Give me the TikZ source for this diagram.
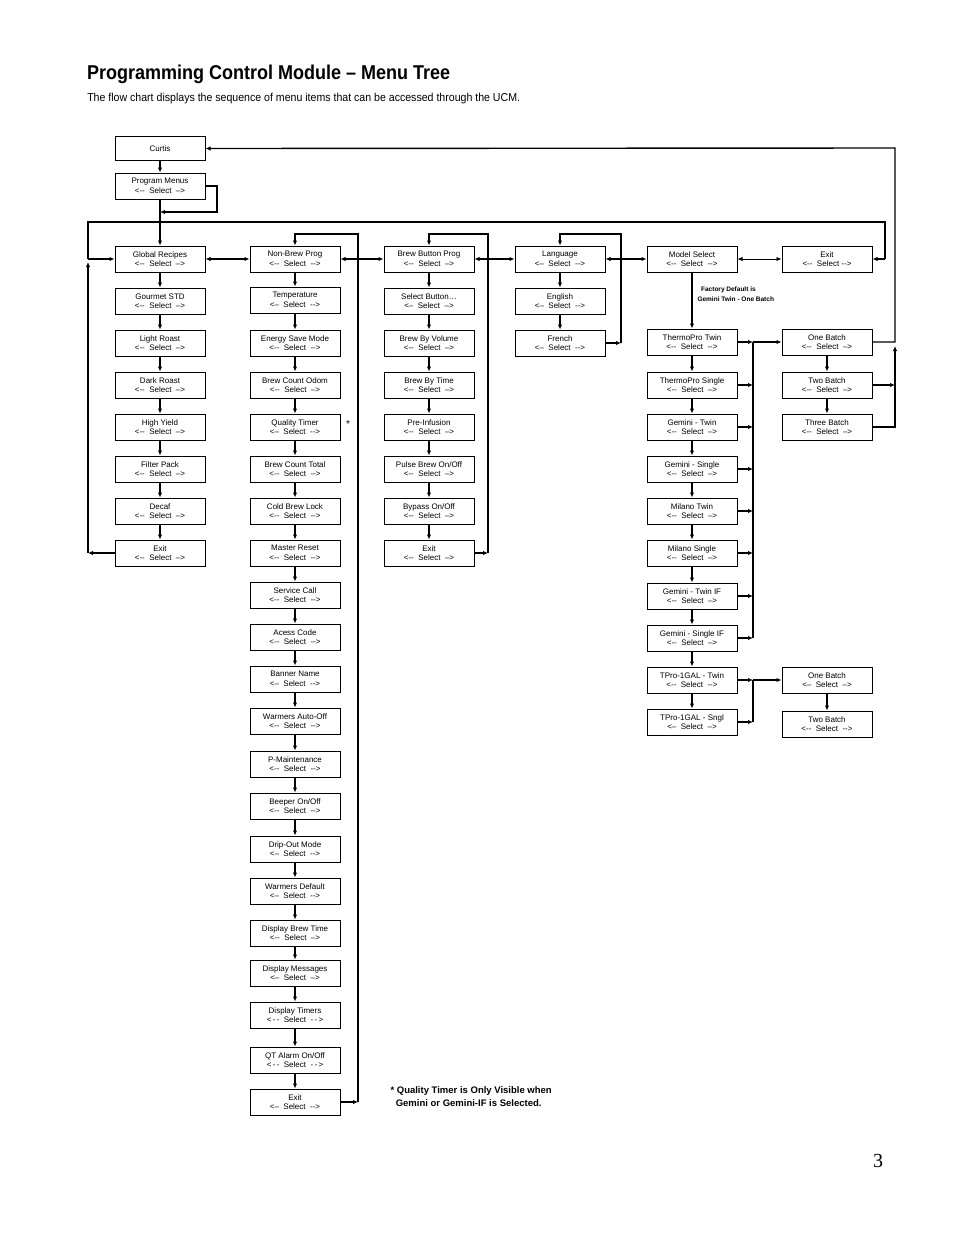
\documentclass[tikz,border=0pt]{standalone}
\usepackage{fontspec}
\setmainfont{Liberation Sans}
\newfontfamily\serifnum{Liberation Serif}
\usetikzlibrary{arrows.meta}
\newcommand\SA{<{-}{-}\ \ Select\ \ {-}{-}>}
\newcommand\SB{<{-}{-}\ \ Select\ \ –>}
\newcommand\SC{<–\ \ Select\ \ {-}{-}>}
\newcommand\SD{<\,-\,-\ \ Select\ \ -\,-\,>}
\begin{document}
\begin{tikzpicture}[x=1pt,y=-1pt,
  box/.style={draw,line width=1pt,minimum width=90pt,minimum height=26pt,inner sep=0pt,
    font=\fontsize{8}{9.5}\selectfont,align=center},
  ln/.style={line width=1.4pt},
  ar/.style={line width=1.4pt,-{Latex[length=5pt,width=4.5pt]}},
  dar/.style={line width=1.4pt,{Latex[length=5pt,width=4.5pt]}-{Latex[length=5pt,width=4.5pt]}}]
\useasboundingbox (0,0) rectangle (954,1235);
\node[anchor=base west,font=\fontsize{20}{22}\bfseries\selectfont,xscale=0.9] (title) at (84,79) {Programming Control Module – Menu Tree};
\node[anchor=base west,font=\fontsize{11.5}{13}\selectfont,xscale=0.92] (sub) at (84,101) {The flow chart displays the sequence of menu items that can be accessed through the UCM.};
\node[anchor=base,font=\fontsize{20}{22}\serifnum] (pg) at (878,1167) {3};

\node[box,minimum height=24pt,anchor=north,inner sep=2pt] (curtis) at (160,136) {Curtis};
\node[box] (pm) at (160,186) {Program Menus\\\SB};
% column 1
\node[box] (a1) at (160,259) {Global Recipes\\\SB};
\node[box] (a2) at (160,301) {Gourmet STD\\\SB};
\node[box] (a3) at (160,343) {Light Roast\\\SB};
\node[box] (a4) at (160,385) {Dark Roast\\\SB};
\node[box] (a5) at (160,427) {High Yield\\\SB};
\node[box] (a6) at (160,469) {Filter Pack\\\SB};
\node[box] (a7) at (160,511) {Decaf\\\SB};
\node[box] (a8) at (160,553) {Exit\\\SB};
% column 2
\node[box] (b1) at (295,259) {Non-Brew Prog\\\SA};
\node[box] (b2) at (295,300) {Temperature\\\SC};
\node[box] (b3) at (295,343) {Energy Save Mode\\\SA};
\node[box] (b4) at (295,385) {Brew Count Odom\\\SB};
\node[box] (b5) at (295,427) {Quality Timer\\\SC};
\node[box] (b6) at (295,469) {Brew Count Total\\\SA};
\node[box] (b7) at (295,511) {Cold Brew Lock\\\SA};
\node[box] (b8) at (295,553) {Master Reset\\\SA};
\node[box] (b9) at (295,595) {Service Call\\\SA};
\node[box] (b10) at (295,637) {Acess Code\\\SA};
\node[box] (b11) at (295,679) {Banner Name\\\SC};
\node[box] (b12) at (295,721) {Warmers Auto-Off\\\SA};
\node[box] (b13) at (295,764) {P-Maintenance\\\SA};
\node[box] (b14) at (295,806) {Beeper On/Off\\\SA};
\node[box] (b15) at (295,849) {Drip-Out Mode\\\SC};
\node[box] (b16) at (295,891) {Warmers Default\\\SC};
\node[box] (b17) at (295,933) {Display Brew Time\\\SB};
\node[box] (b18) at (295,973) {Display Messages\\<–\ \ Select\ \ –>};
\node[box] (b19) at (295,1015) {Display Timers\\\SD};
\node[box] (b20) at (295,1060) {QT Alarm On/Off\\\SD};
\node[box] (b21) at (295,1102) {Exit\\\SC};
\node[font=\fontsize{10}{10}\selectfont] (star) at (348,424) {*};
% column 3
\node[box] (c1) at (429,259) {Brew Button Prog\\\SB};
\node[box] (c2) at (429,301) {Select Button…\\<–\ \ Select\ \ –>};
\node[box] (c3) at (429,343) {Brew By Volume\\\SB};
\node[box] (c4) at (429,385) {Brew By Time\\\SB};
\node[box] (c5) at (429,427) {Pre-Infusion\\\SB};
\node[box] (c6) at (429,469) {Pulse Brew On/Off\\\SB};
\node[box] (c7) at (429,511) {Bypass On/Off\\\SB};
\node[box] (c8) at (429,553) {Exit\\\SB};
% column 4
\node[box] (d1) at (560,259) {Language\\\SC};
\node[box] (d2) at (560,301) {English\\\SC};
\node[box] (d3) at (560,343) {French\\\SC};
% column 5
\node[box] (e0) at (692,259) {Model Select\\\SA};
\node[box] (e1) at (692,342) {ThermoPro Twin\\\SA};
\node[box] (e2) at (692,385) {ThermoPro Single\\\SB};
\node[box] (e3) at (692,427) {Gemini - Twin\\\SB};
\node[box] (e4) at (692,469) {Gemini - Single\\\SB};
\node[box] (e5) at (692,511) {Milano Twin\\\SB};
\node[box] (e6) at (692,553) {Milano Single\\\SB};
\node[box] (e7) at (692,596) {Gemini - Twin IF\\\SB};
\node[box] (e8) at (692,638) {Gemini - Single IF\\\SB};
\node[box] (e9) at (692,680) {TPro-1GAL - Twin\\\SA};
\node[box] (e10) at (692,722) {TPro-1GAL - Sngl\\<–\ \ Select\ \ –>};
% column 6
\node[box] (f0) at (827,259) {Exit\\<{-}{-}\ \ Select {-}{-}>};
\node[box] (f1) at (827,342) {One Batch\\\SB};
\node[box] (f2) at (827,385) {Two Batch\\\SB};
\node[box] (f3) at (827,427) {Three Batch\\\SB};
\node[box] (g1) at (827,680) {One Batch\\<–\ \ Select\ \ –>};
\node[box] (g2) at (827,724) {Two Batch\\\SA};
\node[anchor=west,align=left,font=\fontsize{6.5}{9.5}\bfseries\selectfont] (fd) at (694,294) {\ \ Factory Default is\\Gemini Twin - One Batch};
\node[anchor=north west,align=left,font=\fontsize{9.5}{13.5}\bfseries\selectfont] (note) at (387,1083) {* Quality Timer is Only Visible when\\\ \ Gemini or Gemini-IF is Selected.};

% vertical chains
\draw[ar] (curtis) -- (pm);
\draw[ar] (pm) -- (a1);
\foreach \p/\q in {a1/a2,a2/a3,a3/a4,a4/a5,a5/a6,a6/a7,a7/a8,
  b1/b2,b2/b3,b3/b4,b4/b5,b5/b6,b6/b7,b7/b8,b8/b9,b9/b10,b10/b11,b11/b12,b12/b13,b13/b14,b14/b15,b15/b16,b16/b17,b17/b18,b18/b19,b19/b20,b20/b21,
  c1/c2,c2/c3,c3/c4,c4/c5,c5/c6,c6/c7,c7/c8,d1/d2,d2/d3,
  e0/e1,e1/e2,e2/e3,e3/e4,e4/e5,e5/e6,e6/e7,e7/e8,e8/e9,e9/e10,f1/f2,f2/f3,g1/g2}
  \draw[ar] (\p) -- (\q);
% horizontal links
\foreach \p/\q in {a1/b1,b1/c1,c1/d1,d1/e0} \draw[dar] (\p) -- (\q);
\draw[line width=0.9pt,{Latex[length=5pt,width=4.5pt]}-{Latex[length=5pt,width=4.5pt]}] (e0) -- (f0);
% program menus side loop
\coordinate (pmr) at (217,186); \coordinate (pmb) at (217,212); \coordinate (pmt) at (160,212);
\draw[ar] (pm.east) -- (pmr) -- (pmb) -- (pmt);
% big loop
\coordinate (L1) at (88,222); \coordinate (L2) at (88,259); \coordinate (R1) at (885,222); \coordinate (R2) at (885,259);
\draw[ar] (R2) -- (f0.east);
\draw[ln] (L2) -- (L1) -- (R1) -- (R2);
\draw[ar] (L2) -- (a1.west);
\coordinate (X1) at (88,553); \coordinate (X2) at (88,262);
\draw[ar] (a8.west) -- (X1);
\draw[ar] (X1) -- (X2);
% column 2 loop
\coordinate (B1) at (358,1102); \coordinate (B2) at (358,234); \coordinate (B3) at (295,234);
\draw[ar] (b21.east) -- (B1);
\draw[ar] (B1) -- (B2) -- (B3) -- (b1.north);
% column 3 loop
\coordinate (C1) at (488,553); \coordinate (C2) at (488,234); \coordinate (C3) at (429,234);
\draw[ar] (c8.east) -- (C1);
\draw[ar] (C1) -- (C2) -- (C3) -- (c1.north);
% column 4 loop
\coordinate (D1) at (621,343); \coordinate (D2) at (621,234); \coordinate (D3) at (560,234);
\draw[ar] (d3.east) -- (D1);
\draw[ar] (D1) -- (D2) -- (D3) -- (d1.north);
% model to batch bus
\coordinate (M0) at (753,342); \coordinate (M8) at (753,638);
\foreach \n/\y in {e1/342,e2/385,e3/427,e4/469,e5/511,e6/553,e7/596,e8/638}
  \draw[ar] (\n.east) -- (753,\y);
\draw[ln] (M8) -- (M0);
\draw[ar] (M0) -- (f1.west);
% tpro bus
\coordinate (T1) at (753,680); \coordinate (T2) at (753,722);
\draw[ar] (e9.east) -- (T1);
\draw[ar] (e10.east) -- (T2);
\draw[ln] (T2) -- (T1);
\draw[ar] (T1) -- (g1.west);
% batch return to Curtis
\coordinate (Q1) at (895,342); \coordinate (Q2) at (895,385); \coordinate (Q3) at (895,427); \coordinate (Q0) at (895,148);
\draw[ar] (f3.east) -- (Q3) -- (895,346);
\draw[ar] (f2.east) -- (Q2);
\draw[ar] (f1.east) -- (Q1) -- (Q0) -- (curtis.east);
\end{tikzpicture}
\end{document}
